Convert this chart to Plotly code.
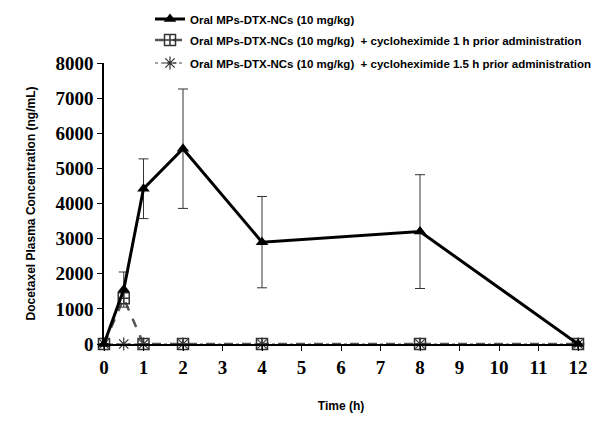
import plotly.graph_objects as go

time = [0, 0.5, 1, 2, 4, 8, 12]
oral = [0, 1550, 4420, 5560, 2900, 3200, 0]
oral_err = [0, 500, 850, 1700, 1300, 1620, 0]
chx1 = [0, 1300, 0, 0, 0, 0, 0]
chx15 = [0, 0, 0, 0, 0, 0, 0]

names = [
    "Oral MPs-DTX-NCs (10 mg/kg)",
    "Oral MPs-DTX-NCs (10 mg/kg)  + cycloheximide 1 h prior administration",
    "Oral MPs-DTX-NCs (10 mg/kg)  + cycloheximide 1.5 h prior administration",
]

fig = go.Figure()
fig.add_trace(go.Scatter(
    x=time, y=chx15, name=names[2], mode="lines+markers", legend="legend3",
    line=dict(color="#888888", width=1.5, dash="dot"),
    marker=dict(symbol="asterisk-open", size=11, color="#333333", line=dict(width=1.2, color="#333333")),
    cliponaxis=False))
fig.add_trace(go.Scatter(
    x=time, y=chx1, name=names[1], mode="lines+markers", legend="legend2",
    line=dict(color="#555555", width=2.5, dash="dash"),
    marker=dict(symbol="square-cross-open", size=11, color="#333333", line=dict(width=1.5, color="#333333")),
    cliponaxis=False))
fig.add_trace(go.Scatter(
    x=time, y=oral, name=names[0], mode="lines+markers", legend="legend",
    line=dict(color="black", width=3),
    marker=dict(symbol="triangle-up", size=11, color="black"),
    error_y=dict(type="data", array=oral_err, visible=True, color="#333333", thickness=1, width=5),
    cliponaxis=False))

legfont = dict(family="Liberation Sans", size=11.5, color="black", weight="bold")

def leg(ypix):
    return dict(x=(150 - 104) / 474, y=(344 - ypix) / 281, xanchor="left", yanchor="middle",
                font=legfont, bgcolor="rgba(0,0,0,0)", borderwidth=0)

tickfont = dict(family="Liberation Serif", size=19, color="black", weight="bold")
titlefont = dict(family="Liberation Sans", size=12, color="black", weight="bold")

fig.update_layout(
    width=594, height=419,
    margin=dict(l=96, r=24, t=55, b=83, autoexpand=False),
    paper_bgcolor="white", plot_bgcolor="white",
    showlegend=True,
    legend=leg(19), legend2=leg(40), legend3=leg(63),
    xaxis=dict(range=[0, 12], tickmode="array", tickvals=list(range(13)),
               showline=True, linecolor="black", linewidth=1.5, ticks="outside",
               ticklen=5, tickcolor="black", showgrid=False, zeroline=False,
               tickfont=tickfont, automargin=False,
               title=dict(text="Time (h)", standoff=25, font=titlefont)),
    yaxis=dict(range=[0, 8000], tickmode="array", tickvals=list(range(0, 8001, 1000)),
               showline=True, linecolor="black", linewidth=1.5, ticks="outside",
               ticklen=5, tickcolor="black", showgrid=False, zeroline=False,
               tickfont=tickfont, automargin=False,
               title=dict(text="Docetaxel Plasma Concentration (ng/mL)", standoff=17, font=titlefont)),
)

fig.write_html("out.html")
